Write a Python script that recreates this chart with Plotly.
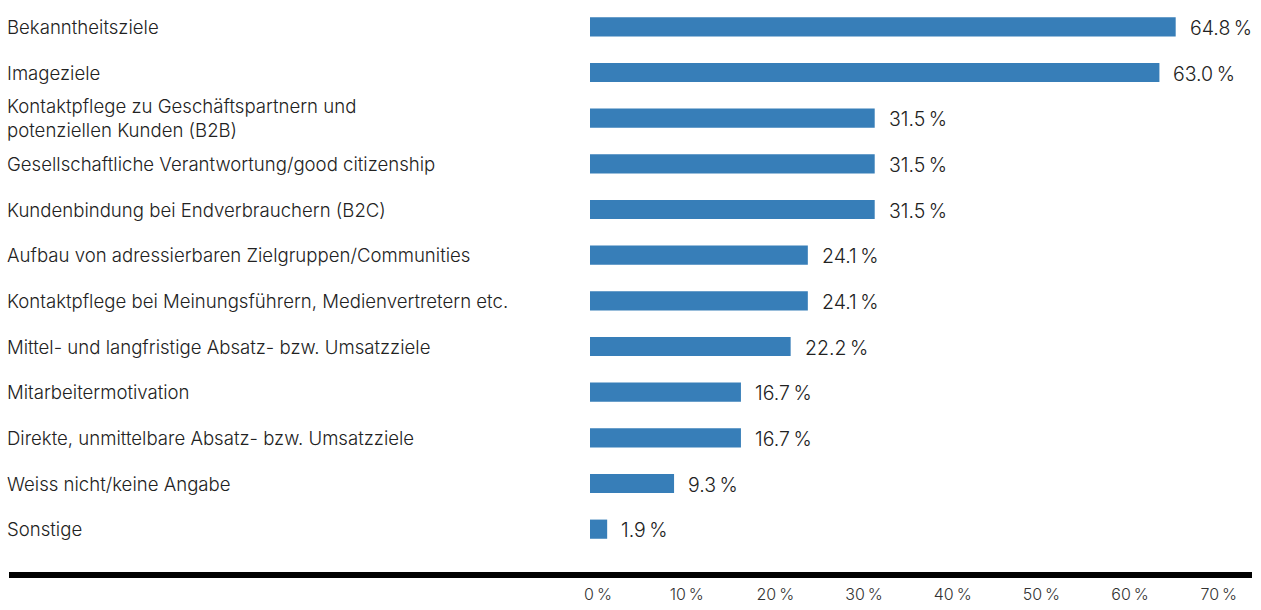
import plotly.graph_objects as go

categories = [
    "Bekanntheitsziele",
    "Imageziele",
    "Kontaktpflege zu Geschäftspartnern und<br>potenziellen Kunden (B2B)",
    "Gesellschaftliche Verantwortung/good citizenship",
    "Kundenbindung bei Endverbrauchern (B2C)",
    "Aufbau von adressierbaren Zielgruppen/Communities",
    "Kontaktpflege bei Meinungsführern, Medienvertretern etc.",
    "Mittel- und langfristige Absatz- bzw. Umsatzziele",
    "Mitarbeitermotivation",
    "Direkte, unmittelbare Absatz- bzw. Umsatzziele",
    "Weiss nicht/keine Angabe",
    "Sonstige",
]
values = [64.8, 63.0, 31.5, 31.5, 31.5, 24.1, 24.1, 22.2, 16.7, 16.7, 9.3, 1.9]
tick_vals = [0, 10, 20, 30, 40, 50, 60, 70]
tick_text = ["0\u2009%", "10\u2009%", "20\u2009%", "30\u2009%", "40\u2009%", "50\u2009%", "60\u2009%", "70\u2009%"]

FONT = "Inter"
TEXT_COLOR = "#222222"
BAR_COLOR = "#377eb8"

W, H = 1261, 610
L, R = 590, 13
T, B = 4, 58

fig = go.Figure()
fig.add_trace(go.Bar(
    x=values,
    y=categories,
    orientation="h",
    marker=dict(color=BAR_COLOR, line=dict(width=0)),
    width=0.42,
    hoverinfo="skip",
))
# invisible helper trace so the percentage scale axis is rendered
fig.add_trace(go.Scatter(
    x=tick_vals,
    y=[categories[0]] * len(tick_vals),
    xaxis="x2", yaxis="y",
    mode="markers", marker=dict(opacity=0, size=1),
    hoverinfo="skip", showlegend=False,
))

# value labels
for c, v in zip(categories, values):
    fig.add_annotation(
        x=v, y=c, xref="x", yref="y",
        text=f"{v:.1f}\u2009%",
        showarrow=False, xanchor="left", yanchor="middle",
        xshift=12, yshift=-1,
        font=dict(family=FONT, size=19.5, color=TEXT_COLOR, weight=300),
    )

plot_w = W - L - R
# category labels left aligned at x ~ 7px
for c in categories:
    fig.add_annotation(
        x=(5 - L) / plot_w, y=c, xref="paper", yref="y",
        text=c, showarrow=False, xanchor="left", yanchor="middle",
        align="left",
        font=dict(family=FONT, size=18.6, color=TEXT_COLOR, weight=300),
    )

plot_h = H - T - B
line_y = (H - B - 575) / plot_h
fig.add_shape(
    type="line", xref="paper", yref="paper",
    x0=(9 - L) / plot_w, x1=(1252 - L) / plot_w,
    y0=line_y, y1=line_y,
    line=dict(color="black", width=6),
)

fig.update_layout(
    width=W, height=H,
    margin=dict(l=L, r=R, t=T, b=B, pad=0),
    plot_bgcolor="white", paper_bgcolor="white",
    showlegend=False,
    xaxis=dict(
        range=[0, 72.8],
        showticklabels=False,
        showgrid=False, zeroline=False, showline=False,
        ticks="", fixedrange=True,
    ),
    xaxis2=dict(
        overlaying="x", side="bottom", anchor="y",
        range=[-0.9, 73.3],
        tickvals=tick_vals, ticktext=tick_text,
        showgrid=False, zeroline=False, showline=False,
        ticks="", ticklabelstandoff=31,
        tickfont=dict(family=FONT, size=16, color="#333333", weight=300),
        fixedrange=True,
    ),
    yaxis=dict(
        categoryorder="array", categoryarray=categories,
        range=[len(categories) - 0.5, -0.5],
        showticklabels=False, showgrid=False, zeroline=False, showline=False,
        ticks="", fixedrange=True,
    ),
)

fig.write_html(
    "out.html",
    config={"displayModeBar": False, "staticPlot": True},
    post_script=(
        "document.documentElement.style.margin='0';"
        "document.documentElement.style.overflow='hidden';"
        "document.documentElement.style.height='610px';"
        "document.body.style.margin='0';"
        "document.body.style.overflow='hidden';"
        "document.body.style.height='610px';"
        "var gd=document.querySelector('.plotly-graph-div');"
        "if(gd){gd.style.overflow='hidden';}"
    ),
)
